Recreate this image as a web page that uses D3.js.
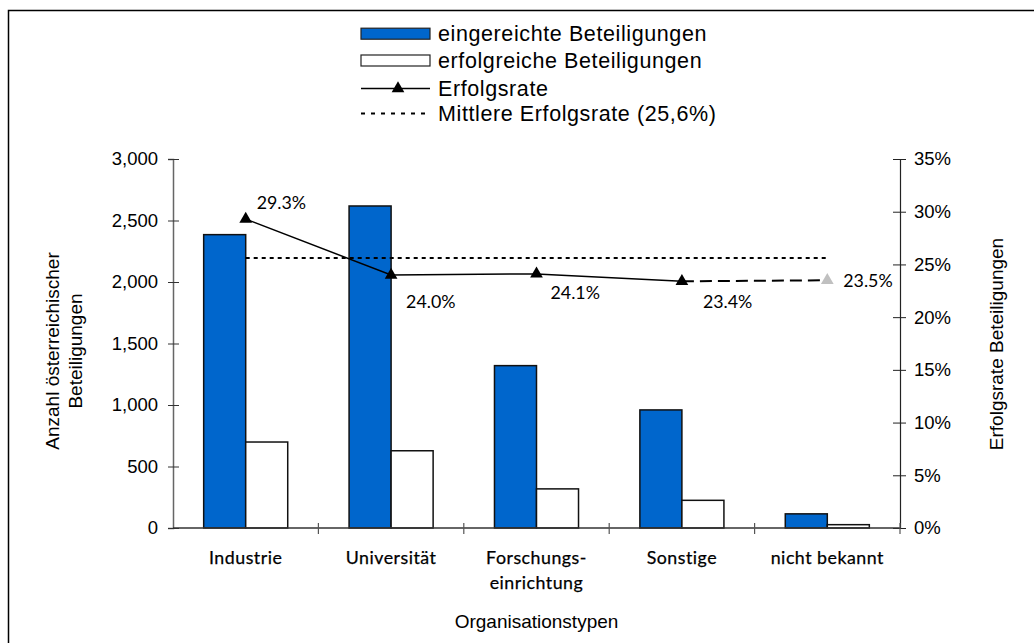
<!DOCTYPE html>
<html>
<head>
<meta charset="utf-8">
<script src="https://cdn.jsdelivr.net/npm/d3@7"></script>
<style>
  html, body { margin: 0; padding: 0; background: #fff; }
  svg { display: block; }
  .sans { font-family: "Liberation Sans", Arial, sans-serif; }
  .geo { font-family: Lato, "Open Sans", sans-serif; }
</style>
</head>
<body>
<svg id="chart" width="1034" height="643"></svg>
<script>
// Austrian participations by organisation type
const categories = ["Industrie", "Universität", "Forschungs-\neinrichtung", "Sonstige", "nicht bekannt"];
const submitted  = [2385, 2618, 1320, 960, 115];   // eingereichte Beteiligungen
const successful = [699, 628, 318, 225, 27];        // erfolgreiche Beteiligungen
const successRate = [0.293, 0.240, 0.241, 0.234, 0.235];
const meanRate = 0.256;
const leftTicks  = [0, 500, 1000, 1500, 2000, 2500, 3000];
const rightTicks = [0, 0.05, 0.10, 0.15, 0.20, 0.25, 0.30, 0.35];
const legendLabels = [
  "eingereichte Beteiligungen",
  "erfolgreiche Beteiligungen",
  "Erfolgsrate",
  "Mittlere Erfolgsrate (25,6%)"
];

// label placement relative to each rate marker (dx, dy of baseline)
const rateLabelOffsets = [[11, -10], [15, 33], [14, 25], [21, 27], [16, 7]];

const W = 1034, H = 643;
const margin = { top: 159, right: 134, bottom: 115, left: 173 };
const svg = d3.select("#chart");

const BLUE = "#0066cc";

// chart frame
svg.append("rect")
  .attr("x", 8.5).attr("y", 10.5)
  .attr("width", 1100).attr("height", 700)
  .attr("fill", "none").attr("stroke", "#000").attr("stroke-width", 1.5);

const x = d3.scaleBand()
  .domain(categories)
  .range([margin.left, W - margin.right])
  .padding(0);

const xSub = d3.scaleBand()
  .domain(["submitted", "successful"])
  .range([0, x.bandwidth()])
  .paddingInner(0)
  .paddingOuter(0.73);

const yL = d3.scaleLinear().domain([0, 3000]).range([H - margin.bottom, margin.top]);
const yR = d3.scaleLinear().domain([0, 0.35]).range([H - margin.bottom, margin.top]);

// bars
const groups = svg.append("g").selectAll("g")
  .data(categories)
  .join("g")
  .attr("transform", d => `translate(${x(d)},0)`);

groups.append("rect")
  .attr("x", xSub("submitted"))
  .attr("width", xSub.bandwidth())
  .attr("y", (d, i) => yL(submitted[i]))
  .attr("height", (d, i) => yL(0) - yL(submitted[i]))
  .attr("fill", BLUE).attr("stroke", "#111").attr("stroke-width", 1.5);

groups.append("rect")
  .attr("x", xSub("successful"))
  .attr("width", xSub.bandwidth())
  .attr("y", (d, i) => yL(successful[i]))
  .attr("height", (d, i) => yL(0) - yL(successful[i]))
  .attr("fill", "#fff").attr("stroke", "#111").attr("stroke-width", 1.5);

// left axis
const axL = svg.append("g")
  .attr("class", "sans")
  .attr("transform", `translate(${margin.left},0)`)
  .call(d3.axisLeft(yL).tickValues(leftTicks).tickFormat(d3.format(",")).tickSize(5).tickPadding(10));
axL.select(".domain").attr("stroke", "#666").attr("stroke-width", 1.5);
axL.selectAll(".tick line").attr("x1", -5).attr("x2", 6).attr("stroke", "#333");
axL.selectAll(".tick text").attr("font-size", 18.5).attr("fill", "#000").attr("font-family", "Liberation Sans, Arial, sans-serif");

// right axis
const axR = svg.append("g")
  .attr("transform", `translate(${W - margin.right},0)`)
  .call(d3.axisRight(yR).tickValues(rightTicks).tickFormat(d3.format(".0%")).tickSize(6).tickPadding(8));
axR.select(".domain").attr("stroke", "#222").attr("stroke-width", 1.2);
axR.selectAll(".tick line").attr("x1", -7).attr("x2", 6).attr("stroke", "#222");
axR.selectAll(".tick text").attr("font-size", 18.5).attr("fill", "#000").attr("font-family", "Liberation Sans, Arial, sans-serif");

// category axis
const y0 = yL(0);
svg.append("line")
  .attr("x1", margin.left).attr("x2", W - margin.right)
  .attr("y1", y0).attr("y2", y0)
  .attr("stroke", "#333").attr("stroke-width", 1.5);
svg.append("g").selectAll("line")
  .data(categories.slice(1).concat([null]))
  .join("line")
  .attr("x1", d => d === null ? x.range()[1] : x(d))
  .attr("x2", d => d === null ? x.range()[1] : x(d))
  .attr("y1", y0 - 5).attr("y2", y0 + 6)
  .attr("stroke", "#555").attr("stroke-width", 1.2);

const catLabels = svg.append("g").attr("class", "geo").selectAll("text")
  .data(categories)
  .join("text")
  .attr("x", d => x(d) + x.bandwidth() / 2)
  .attr("y", 564)
  .attr("text-anchor", "middle")
  .attr("font-size", 17.8)
  .attr("letter-spacing", 0.5)
  .attr("stroke", "#000").attr("stroke-width", 0.25)
  .attr("fill", "#000");
catLabels.each(function(d) {
  const lines = d.split("\n");
  const t = d3.select(this);
  lines.forEach((ln, k) => {
    t.append("tspan")
      .attr("x", x(d) + x.bandwidth() / 2)
      .attr("dy", k === 0 ? 0 : 25)
      .text(ln);
  });
});

// axis titles
svg.append("text").attr("class", "sans")
  .attr("x", (margin.left + W - margin.right) / 2).attr("y", 628)
  .attr("text-anchor", "middle").attr("font-size", 19).attr("fill", "#000")
  .text("Organisationstypen");

const leftTitle = svg.append("text").attr("class", "sans")
  .attr("transform", "translate(59,351) rotate(-90)")
  .attr("text-anchor", "middle").attr("font-size", 19).attr("fill", "#000");
leftTitle.append("tspan").attr("x", 0).attr("dy", 0).text("Anzahl österreichischer");
leftTitle.append("tspan").attr("x", 0).attr("dy", 23).text("Beteiligungen");

svg.append("text").attr("class", "sans")
  .attr("transform", "translate(1003,344) rotate(-90)")
  .attr("text-anchor", "middle").attr("font-size", 19).attr("fill", "#000")
  .text("Erfolgsrate Beteiligungen");

// mean success rate
const cx = d => x(d) + x.bandwidth() / 2;
svg.append("line")
  .attr("x1", cx(categories[0])).attr("x2", cx(categories[categories.length - 1]))
  .attr("y1", yR(meanRate)).attr("y2", yR(meanRate))
  .attr("stroke", "#000").attr("stroke-width", 2).attr("stroke-dasharray", "4,4");

// success rate line: solid for known types, dashed towards "nicht bekannt"
const pts = categories.map((c, i) => [cx(c), yR(successRate[i])]);
const line = d3.line();
svg.append("path")
  .attr("d", line(pts.slice(0, 4)))
  .attr("fill", "none").attr("stroke", "#000").attr("stroke-width", 1.5);
svg.append("path")
  .attr("d", line(pts.slice(3)))
  .attr("fill", "none").attr("stroke", "#000").attr("stroke-width", 2)
  .attr("stroke-dasharray", "12,6");

const tri = d3.symbol().type(d3.symbolTriangle).size(70);
svg.append("g").selectAll("path")
  .data(pts)
  .join("path")
  .attr("d", tri)
  .attr("transform", d => `translate(${d[0]},${d[1]})`)
  .attr("fill", (d, i) => i === pts.length - 1 ? "#c0c0c0" : "#000");

svg.append("g").attr("class", "geo").selectAll("text")
  .data(pts)
  .join("text")
  .attr("x", (d, i) => d[0] + rateLabelOffsets[i][0])
  .attr("y", (d, i) => d[1] + rateLabelOffsets[i][1])
  .attr("font-size", 17.8)
  .attr("fill", "#000")
  .text((d, i) => d3.format(".1%")(successRate[i]));

// legend
const lg = svg.append("g").attr("class", "sans");
const rowY = [33.7, 60.5, 88.5, 113.5];
const lx0 = 361, lx1 = 430;
lg.append("rect").attr("x", lx0).attr("y", rowY[0] - 5.5).attr("width", lx1 - lx0).attr("height", 11)
  .attr("fill", BLUE).attr("stroke", "#222").attr("stroke-width", 1.2);
lg.append("rect").attr("x", lx0).attr("y", rowY[1] - 5.5).attr("width", lx1 - lx0).attr("height", 11)
  .attr("fill", "#fff").attr("stroke", "#222").attr("stroke-width", 1.2);
lg.append("line").attr("x1", lx0).attr("x2", lx1).attr("y1", rowY[2]).attr("y2", rowY[2])
  .attr("stroke", "#000").attr("stroke-width", 1.5);
lg.append("path").attr("d", tri).attr("transform", `translate(398,${rowY[2]})`).attr("fill", "#000");
lg.append("line").attr("x1", lx0).attr("x2", lx1).attr("y1", rowY[3]).attr("y2", rowY[3])
  .attr("stroke", "#000").attr("stroke-width", 2).attr("stroke-dasharray", "4,6");
lg.selectAll("text.lbl")
  .data(legendLabels)
  .join("text")
  .attr("class", "lbl")
  .attr("x", 438)
  .attr("y", (d, i) => rowY[i] + 7)
  .attr("font-size", 21.5)
  .attr("letter-spacing", 0.6)
  .attr("fill", "#000")
  .text(d => d);
</script>
</body>
</html>
